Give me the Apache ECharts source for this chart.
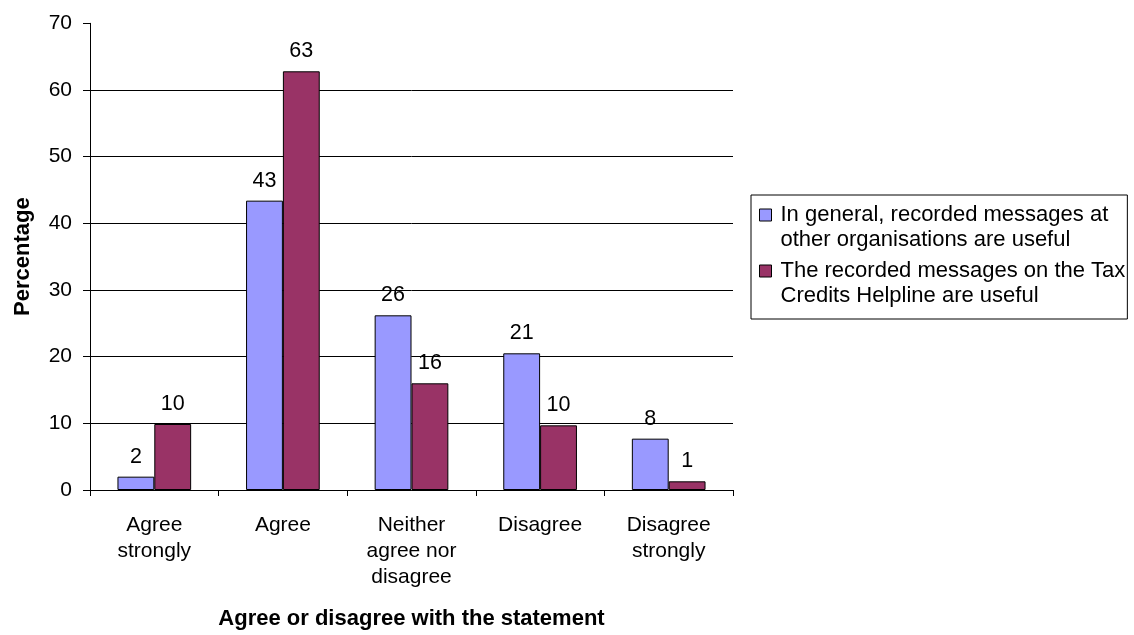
<!DOCTYPE html>
<html>
<head>
<meta charset="utf-8">
<script src="https://cdn.jsdelivr.net/npm/echarts@6/dist/echarts.min.js"></script>
<style>
html,body{margin:0;padding:0;background:#fff;}
#c{width:1134px;height:635px;}
</style>
</head>
<body>
<div id="c"></div>
<script>
const categories = ['Agree\nstrongly', 'Agree', 'Neither\nagree nor\ndisagree', 'Disagree', 'Disagree\nstrongly'];
const seriesNames = [
  'In general, recorded messages at other organisations are useful',
  'The recorded messages on the Tax Credits Helpline are useful'
];
const legendLabels = [
  'In general, recorded messages at\nother organisations are useful',
  'The recorded messages on the Tax\nCredits Helpline are useful'
];
const generalValues = [2.0, 43.4, 26.2, 20.5, 7.7];
const helplineValues = [9.9, 62.8, 16.0, 9.7, 1.3];
const yTicks = [0, 10, 20, 30, 40, 50, 60, 70];
const xTitle = 'Agree or disagree with the statement';
const yTitle = 'Percentage';

const FONT = '"Liberation Sans", Arial, Helvetica, sans-serif';
const chart = echarts.init(document.getElementById('c'));

const labelCfg = {
  show: true,
  position: 'top',
  distance: 9,
  color: '#000',
  fontFamily: FONT,
  fontSize: 21.5,
  formatter: p => Math.round(p.value)
};

chart.setOption({
  animation: false,
  backgroundColor: '#fff',
  grid: { left: 90, right: 401, top: 23.3, bottom: 143.3, containLabel: false },
  legend: {
    orient: 'vertical',
    left: 751,
    top: 195,
    padding: [7.5, 2, 10.5, 8],
    itemGap: 6,
    itemWidth: 16,
    itemHeight: 37,
    icon: 'path://M0,0L12,0L12,12L0,12Z M16,37',
    borderColor: '#000',
    borderWidth: 1,
    itemStyle: { borderColor: '#000', borderWidth: 1 },
    textStyle: { color: '#000', fontFamily: FONT, fontSize: 22, lineHeight: 25 },
    formatter: name => legendLabels[seriesNames.indexOf(name)]
  },
  xAxis: {
    type: 'category',
    data: categories,
    name: xTitle,
    nameLocation: 'middle',
    nameGap: 118,
    nameTextStyle: { color: '#000', fontFamily: FONT, fontSize: 22, fontWeight: 'bold' },
    axisLine: { lineStyle: { color: '#000', width: 1 } },
    axisTick: { show: true, length: 6, lineStyle: { color: '#000' } },
    axisLabel: { color: '#000', fontFamily: FONT, fontSize: 21, lineHeight: 26, margin: 22, interval: 0 },
    splitLine: { show: false }
  },
  yAxis: {
    type: 'value',
    min: yTicks[0],
    max: yTicks[yTicks.length - 1],
    interval: yTicks[1] - yTicks[0],
    name: yTitle,
    nameLocation: 'middle',
    nameGap: 56,
    nameTextStyle: { color: '#000', fontFamily: FONT, fontSize: 22, fontWeight: 'bold' },
    axisLine: { show: true, lineStyle: { color: '#000', width: 1 } },
    axisTick: { show: true, length: 7, lineStyle: { color: '#000' } },
    axisLabel: { color: '#000', fontFamily: FONT, fontSize: 21, margin: 18 },
    splitLine: { show: true, showMaxLine: false, lineStyle: { color: '#000', width: 1 } }
  },
  series: [
    {
      name: seriesNames[0],
      type: 'bar',
      data: generalValues,
      barGap: '0%',
      barCategoryGap: '42.7%',
      itemStyle: { color: '#9999FF', borderColor: '#000', borderWidth: 1 },
      label: labelCfg
    },
    {
      name: seriesNames[1],
      type: 'bar',
      data: helplineValues,
      barGap: '0%',
      barCategoryGap: '42.7%',
      itemStyle: { color: '#993366', borderColor: '#000', borderWidth: 1 },
      label: labelCfg
    }
  ]
});
</script>
</body>
</html>
